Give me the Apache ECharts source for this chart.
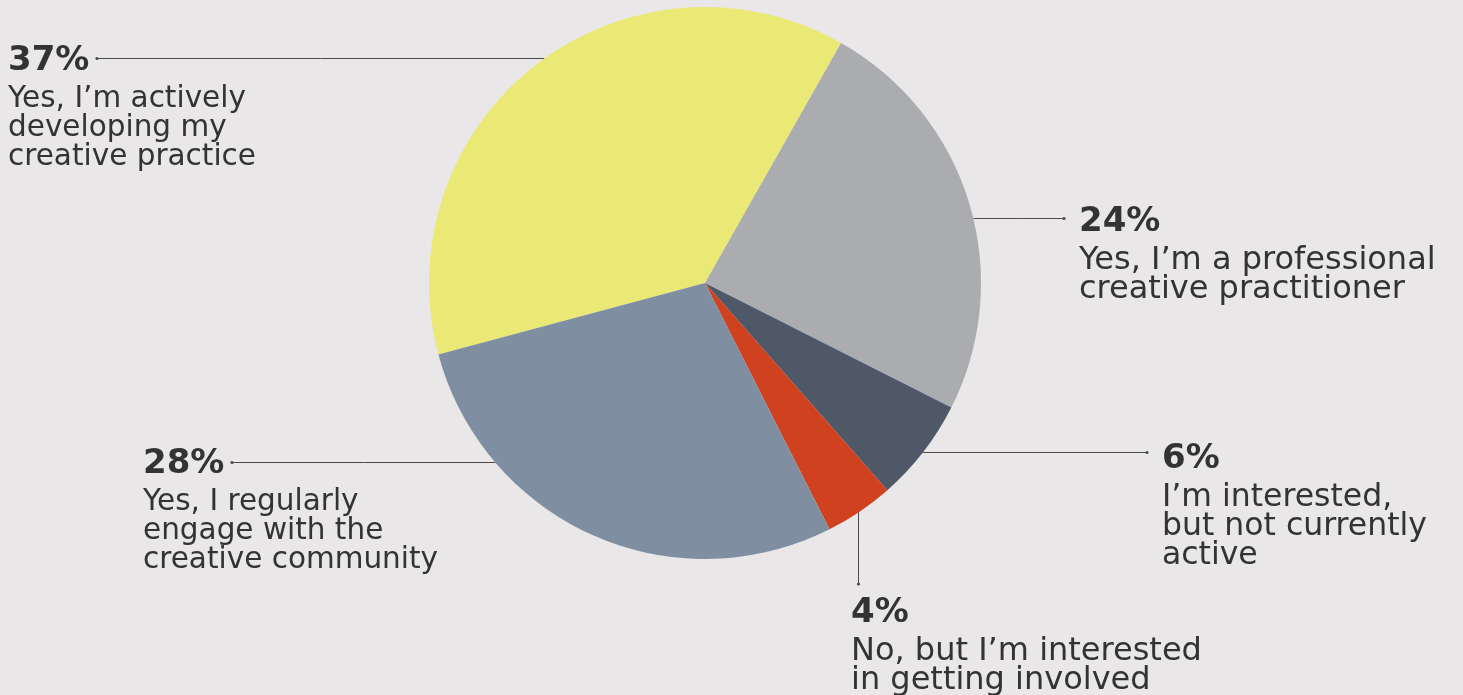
<!DOCTYPE html>
<html>
<head>
<meta charset="utf-8">
<script src="https://cdn.jsdelivr.net/npm/echarts@6/dist/echarts.min.js"></script>
<style>
  html, body { margin: 0; padding: 0; background: #e9e7e8; }
  #chart { width: 1463px; height: 695px; }
</style>
</head>
<body>
<div id="chart"></div>
<script>
// Survey answers, in clockwise drawing order
const categories = [
  'Yes, I’m actively developing my creative practice',
  'Yes, I’m a professional creative practitioner',
  'I’m interested, but not currently active',
  'No, but I’m interested in getting involved',
  'Yes, I regularly engage with the creative community'
];
// Share of respondents, percent
const shares = [37, 24, 6, 4, 28];
// How each answer wraps in its label
const labelLines = [
  ['Yes, I’m actively', 'developing my', 'creative practice'],
  ['Yes, I’m a professional', 'creative practitioner'],
  ['I’m interested,', 'but not currently', 'active'],
  ['No, but I’m interested', 'in getting involved'],
  ['Yes, I regularly', 'engage with the', 'creative community']
];

const colors = ['#eae975', '#abacaf', '#4e5866', '#cf411f', '#7f8fa1'];
const TEXT = '#333333';
const LINE = '#4a4a4a';
const FONT = '"DejaVu Sans", sans-serif';
const PCT_SIZE = 34, PCT_ROW = 48, TXT_ROW = 29;

// Pie geometry in pixels
const CX = 705, CY = 283, R = 276;

// Label placement: the leader runs horizontally at lineY for side labels,
// or vertically at lineX down to lineEndY for the label below the pie.
const labelPlacement = [
  { side: 'left',  x: 8,    rowY: 61,  lineY: 58.5,  size: 29.5 },
  { side: 'right', x: 1079, rowY: 222, lineY: 218.5, size: 32 },
  { side: 'right', x: 1162, rowY: 459, lineY: 452.5, size: 31.5 },
  { side: 'below', x: 851,  rowY: 613, lineX: 858.5, lineEndY: 584, size: 32 },
  { side: 'left',  x: 143,  rowY: 464, lineY: 462.5, size: 29.5 }
];

const measureCtx = document.createElement('canvas').getContext('2d');
function pctWidth(str) {
  measureCtx.font = 'bold ' + PCT_SIZE + 'px ' + FONT;
  return measureCtx.measureText(str).width;
}

// Start and end of each leader line; it starts on the rim of the pie
function leader(i) {
  const p = labelPlacement[i];
  if (p.side === 'below') {
    const y0 = CY + Math.sqrt(R * R - (p.lineX - CX) * (p.lineX - CX));
    return [[p.lineX, y0], [p.lineX, p.lineEndY]];
  }
  const dx = Math.sqrt(R * R - (p.lineY - CY) * (p.lineY - CY));
  if (p.side === 'left') {
    const x1 = Math.round(p.x + pctWidth(shares[i] + '%') + 8);
    return [[CX - dx, p.lineY], [x1, p.lineY]];
  }
  return [[CX + dx, p.lineY], [p.x - 15, p.lineY]];
}

const chart = echarts.init(document.getElementById('chart'), null, { renderer: 'canvas' });

const dots = categories.map((c, i) => {
  const end = leader(i)[1];
  return {
    type: 'circle',
    shape: { cx: end[0], cy: end[1], r: 1.6 },
    style: { fill: LINE },
    silent: true,
    z: 10
  };
});

chart.setOption({
  backgroundColor: '#e9e7e8',
  animation: false,
  color: colors,
  graphic: dots,
  series: [{
    type: 'pie',
    center: [CX, CY],
    radius: R,
    startAngle: 195,
    clockwise: true,
    avoidLabelOverlap: false,
    silent: true,
    emphasis: { disabled: true },
    data: categories.map((name, i) => ({
      name: name,
      value: shares[i],
      label: {
        rich: {
          t: { fontFamily: FONT, fontSize: labelPlacement[i].size, lineHeight: TXT_ROW, color: TEXT }
        }
      }
    })),
    label: {
      show: true,
      position: 'outside',
      fontFamily: FONT,
      formatter: function (p) {
        return '{p|' + p.value + '%}\n' +
          labelLines[p.dataIndex].map(l => '{t|' + l + '}').join('\n');
      },
      rich: {
        p: { fontFamily: FONT, fontSize: PCT_SIZE, fontWeight: 'bold', lineHeight: PCT_ROW, color: TEXT },
        t: { fontFamily: FONT, fontSize: 31, lineHeight: TXT_ROW, color: TEXT }
      }
    },
    labelLine: {
      show: true,
      length: 10,
      length2: 10,
      lineStyle: { color: LINE, width: 1 }
    },
    labelLayout: function (params) {
      const i = params.dataIndex;
      const p = labelPlacement[i];
      const pts = leader(i);
      const mid = [(pts[0][0] + pts[1][0]) / 2, (pts[0][1] + pts[1][1]) / 2];
      return {
        x: p.x,
        y: p.rowY - PCT_ROW / 2,
        align: 'left',
        verticalAlign: 'top',
        labelLinePoints: [pts[0], mid, pts[1]]
      };
    }
  }]
});
</script>
</body>
</html>
